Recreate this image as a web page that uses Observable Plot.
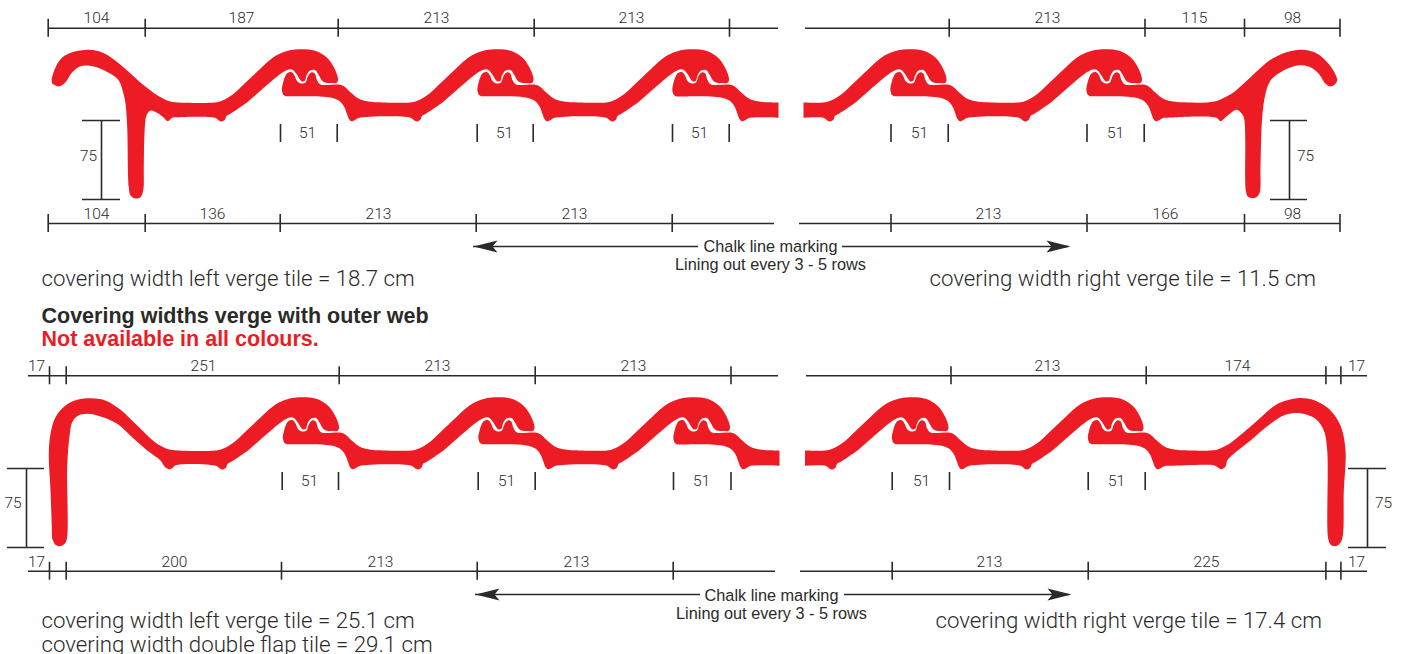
<!DOCTYPE html>
<html><head><meta charset="utf-8">
<script src="https://cdn.jsdelivr.net/npm/d3@7"></script>
<script src="https://cdn.jsdelivr.net/npm/@observablehq/plot@0.6"></script>
<style>html,body{margin:0;padding:0;background:#fff}svg{display:block}</style>
</head><body><div id="chart"></div>
<script>
// Tile cross-section outlines
const tabTop=[[282.7,94.3],[281.3,89.3],[282.3,83.3],[284.3,76.7],[287.3,72.3],[291.3,71.7],[294,75],[296.7,80.7],[300.7,83],[305,82],[307.3,76],[310.7,72],[314,72.7],[316.7,80],[320,84],[338.3,84],[343,85.5],[350,91.8],[357,97.5],[364,100.3],[372,101.6],[382,102]];
const tabBottom=[[358,117.5],[354.5,119.5],[351,120.8],[348.5,118.5],[346.5,113.5],[343.5,106],[338.3,100],[328.3,96.7],[303.3,95.7],[285,95.7]];
const waveTop=[[410,102],[415.5,100.8],[422,97.8],[429,93],[437,85.5],[445.5,77.5],[455,68.5],[465.5,59],[473,54],[482,50.5],[490,49],[500,48.7],[508,49.7],[514,51.7],[520,55.5],[525,60.5],[529,67],[532,74],[533,79.5],[531.7,82.3]];
const waveBottom=[[525,82.6],[520,82],[517,80],[513.5,74],[510,69.5],[505,70],[501.5,75],[500,80],[497,81],[494.5,78.5],[491.5,73.5],[487,69],[482,69.5],[472,76],[465.5,81.5],[459,87],[450,95],[442,102],[434,107.5],[425.7,113],[421.5,115.5],[420,119],[416.7,121],[413.5,119.7],[410,117.3]];
const hookTop=[[51,79],[53,72],[57,63],[63,56],[71,52],[80,50],[88,49.3],[97,50.5],[105,53.5],[116,61],[125,68.5],[133.3,76],[141,83],[150,90],[158,95.5],[165,99.3],[171,101.3],[177,102]];
const hookUnder=[[176.7,116.7],[171.7,117.3],[167.3,120.7],[163.3,117.3],[158.3,113.3],[150,110],[146,115],[144,133.3],[143.3,166.7],[142.7,190],[140,196.7],[135,198],[130,195],[128.3,186.7],[126.7,126.7],[125,103],[123,93.3],[118.3,80],[110,73.3],[93.3,66],[80,65.7],[71.7,71.7],[65,81.7],[58.3,86],[51.7,83.3]];
const rightHook=[[1206.7,102],[1214,101],[1220,99],[1227,95.5],[1233.3,91.7],[1241,85],[1250,76.7],[1260,67.5],[1270,59.3],[1278,55],[1286.7,51.5],[1300,49.3],[1308,50],[1315,52.3],[1323.3,58.3],[1331.7,68.3],[1336.7,79.3],[1335,83.3],[1330,86],[1325,83.3],[1318.3,73.3],[1308.3,66],[1296.7,65],[1280,71.7],[1270,80],[1265,93.3],[1261.7,116.7],[1260,166.7],[1259.3,191.7],[1256.7,196],[1252.3,197.7],[1247.3,196],[1245.3,190],[1243.3,116.7],[1240,111.7],[1236,109.3],[1230,112.7],[1225,116.7],[1220,120.7],[1216,117.3],[1165,117.3]];
const webLeftTop=[[51.7,538.3],[50,490],[48.3,453.3],[50,433.3],[55,416.7],[65,405],[76.7,399.3],[90,397.7],[99,398.5],[106.7,400.7],[120,409.3],[136.7,425],[153.3,440.7],[161,445.8],[168,448.8],[176.7,450]];
const webLeftUnder=[[175,464.7],[171.7,467.7],[168.3,468.7],[164,466],[160,460],[146.7,450],[133.3,438.3],[116.7,423.3],[100,416],[86.7,413.3],[76.7,415.7],[71.7,421.7],[69.3,433.3],[66.7,466.7],[66,540],[63.3,544],[59,545.7],[54.3,544]];
const webRight=[[1210,450],[1217,449],[1223.3,446.3],[1230,442.5],[1236.7,437.3],[1253.3,423.3],[1270,408.3],[1276,404],[1283.3,400.7],[1298.3,397.5],[1307,398],[1315,400.3],[1328.3,408.3],[1340,425],[1345,450],[1343.3,490],[1341.7,538.3],[1338.3,544],[1334.3,545.7],[1330,544],[1327.7,538.3],[1326.7,450],[1323.3,430],[1315,418.3],[1300,412.7],[1285,414.3],[1270,423.3],[1250,440],[1233.3,453.3],[1226.7,460],[1225,466],[1220.7,468.7],[1216,466],[1213.3,464.7],[1170,465.3]];

// Dimension lines: [from, to, y], ticks [x, y], labels [text, x, y]
const dimLines=[[48,778,27.7],[805,1340,27.7],[48,774,223],[799,1340,223],[28,778,375.3],[806,1367,375.3],[28,775,570.7],[800,1367,570.7]];
const tallTicks=[[47.7,27.7],[144.7,27.7],[337.7,27.7],[533.7,27.7],[729,27.7],[948.7,27.7],[1144.5,27.7],[1244,27.7],[1339.5,27.7],
 [47.7,223],[144.7,223],[279.7,223],[475.7,223],[671.7,223],[890.5,223],[1086.5,223],[1244,223],[1339.5,223],
 [49,375.3],[65.7,375.3],[338.7,375.3],[534.7,375.3],[730.5,375.3],[950.5,375.3],[1145.7,375.3],[1325.4,375.3],[1340.4,375.3],
 [49,570.7],[65.7,570.7],[281,570.7],[476.7,570.7],[672.7,570.7],[891.7,570.7],[1087.7,570.7],[1325.4,570.7],[1340.4,570.7]];
const shortTicks=[[280,133],[336.7,133],[476.7,133],[532.7,133],[672,133],[728.7,133],[890.5,133],[947.7,133],[1086.5,133],[1143.7,133],
 [281.7,481],[338,481],[477.7,481],[534.7,481],[673,481],[730.5,481],[891.7,481],[949,481],[1087.7,481],[1144.7,481]];
const dimLabels=[["104",96,18],["187",241,18],["213",436,18],["213",631,18],["213",1047,18],["115",1194,18],["98",1292,18],
 ["104",96,214],["136",212,214],["213",378,214],["213",574,214],["213",988,214],["166",1165,214],["98",1292,214],
 ["17",36,366],["251",203,366],["213",437,366],["213",633,366],["213",1047,366],["174",1237,366],["17",1356,366],
 ["17",36,562],["200",174,562],["213",380,562],["213",576,562],["213",989,562],["225",1206,562],["17",1356,562],
 ["51",307,133],["51",504,133],["51",699,133],["51",919,133],["51",1115,133],
 ["51",309,481],["51",506,481],["51",701,481],["51",921,481],["51",1116,481],
 ["75",88,156],["75",1305,156],["75",12.5,503],["75",1383,503]];
const bracketBars=[[82,120,120],[82,120,199],[1270,1307,120],[1270,1307,199],[7,44,468],[7,44,547],[1348,1386,468],[1348,1386,547]];
const bracketStems=[[101,120,199],[1289,120,199],[26,468,547],[1367,468,547]];
const arrowLines=[[473,698,246],[842,1068,246],[475,700,594],[844,1069,594]];
const arrowHeads=[
 [[473,246],[497,240],[492,246],[497,252]],[[1070,246],[1046,240],[1051,246],[1046,252]],
 [[475,594],[499,588],[494,594],[499,600]],[[1071,594],[1047,588],[1052,594],[1047,600]]];
const chalkLabels=[["Chalk line marking",770,246],["Lining out every 3 - 5 rows",770,264],["Chalk line marking",771,595],["Lining out every 3 - 5 rows",771,613.5]];
const noteLabels=[["covering width left verge tile = 18.7 cm",41,278.5],["covering width right verge tile = 11.5 cm",929,278.5],
 ["covering width left verge tile = 25.1 cm",41,620.5],["covering width double flap tile = 29.1 cm",41,644.5],["covering width right verge tile = 17.4 cm",935,620.5]];
const headLabels=[["Covering widths verge with outer web",41,315.5]];
const redLabels=[["Not available in all colours.",41,339]];

const shift=(p,dx,dy=0)=>p.map(([x,y])=>[x+dx,y+dy]);
const full=(dx,dy=0)=>shift([...tabTop,...waveTop,...waveBottom,...tabBottom],dx,dy);
const cutTab=(dx,cut,dy=0)=>shift([[cut,117.3],...tabBottom,...tabTop,[cut,102]],dx,dy);
const cutWave=(dx,cut,dy=0)=>shift([[cut,102],...waveTop,...waveBottom,[cut,117.3]],dx,dy);
const shapes=[
 [...hookTop,...shift(waveTop,-195.5),...shift(waveBottom,-195.5),...hookUnder],
 full(0),full(195.5),cutTab(390.5,387.5),
 cutWave(413,390),full(608.5),
 [...shift(tabTop,804.5),...rightHook,...shift(tabBottom,804.5)],
 [...webLeftTop,...shift(waveTop,-194.5,348),...shift(waveBottom,-194.5,348),...webLeftUnder],
 full(1,348),full(196.5,348),cutTab(391.5,387.5,348),
 cutWave(415,389.5,348),full(610,348),
 [...shift(tabTop,806,348),...webRight,...shift(tabBottom,806,348)]
];
const outline=shapes.flatMap((s,i)=>s.map(([x,y])=>({x,y,shape:i})));
const heads=arrowHeads.flatMap((s,i)=>s.map(([x,y])=>({x,y,shape:i})));

const INK="#2b2a29", RED="#ed1c24", FONT="Roboto";
const txt=(rows,o)=>Plot.text(rows,{x:d=>d[1],y:d=>d[2],text:d=>d[0],fontFamily:FONT,fill:INK,...o});

const chart=Plot.plot({
 width:1401,height:654,margin:0,
 x:{domain:[0,1401],range:[0,1401],axis:null},
 y:{domain:[0,654],range:[0,654],axis:null},
 marks:[
  Plot.line(outline,{x:"x",y:"y",z:"shape",fill:RED,stroke:"none",curve:"catmull-rom"}),
  Plot.ruleY(dimLines,{x1:d=>d[0],x2:d=>d[1],y:d=>d[2],stroke:INK,strokeWidth:1.6}),
  Plot.ruleX(tallTicks,{x:d=>d[0],y1:d=>d[1]-9,y2:d=>d[1]+9,stroke:INK,strokeWidth:1.6}),
  Plot.ruleX(shortTicks,{x:d=>d[0],y1:d=>d[1]-9,y2:d=>d[1]+9,stroke:INK,strokeWidth:1.6}),
  Plot.ruleY(bracketBars,{x1:d=>d[0],x2:d=>d[1],y:d=>d[2],stroke:INK,strokeWidth:1.6}),
  Plot.ruleX(bracketStems,{x:d=>d[0],y1:d=>d[1],y2:d=>d[2],stroke:INK,strokeWidth:1.6}),
  Plot.ruleY(arrowLines,{x1:d=>d[0],x2:d=>d[1],y:d=>d[2],stroke:INK,strokeWidth:1.6}),
  Plot.line(heads,{x:"x",y:"y",z:"shape",fill:INK,stroke:"none"}),
  txt(dimLabels,{fontSize:15.5,fontWeight:300}),
  txt(chalkLabels,{fontFamily:"Liberation Sans",fontSize:16.3}),
  txt(noteLabels,{textAnchor:"start",fontSize:22.25,fontWeight:300}),
  txt(headLabels,{textAnchor:"start",fontSize:21.5,fontWeight:700,fontFamily:"Liberation Sans"}),
  txt(redLabels,{textAnchor:"start",fontSize:21.5,fontWeight:700,fontFamily:"Liberation Sans",fill:RED})
 ]
});
document.getElementById("chart").append(chart);
</script></body></html>
